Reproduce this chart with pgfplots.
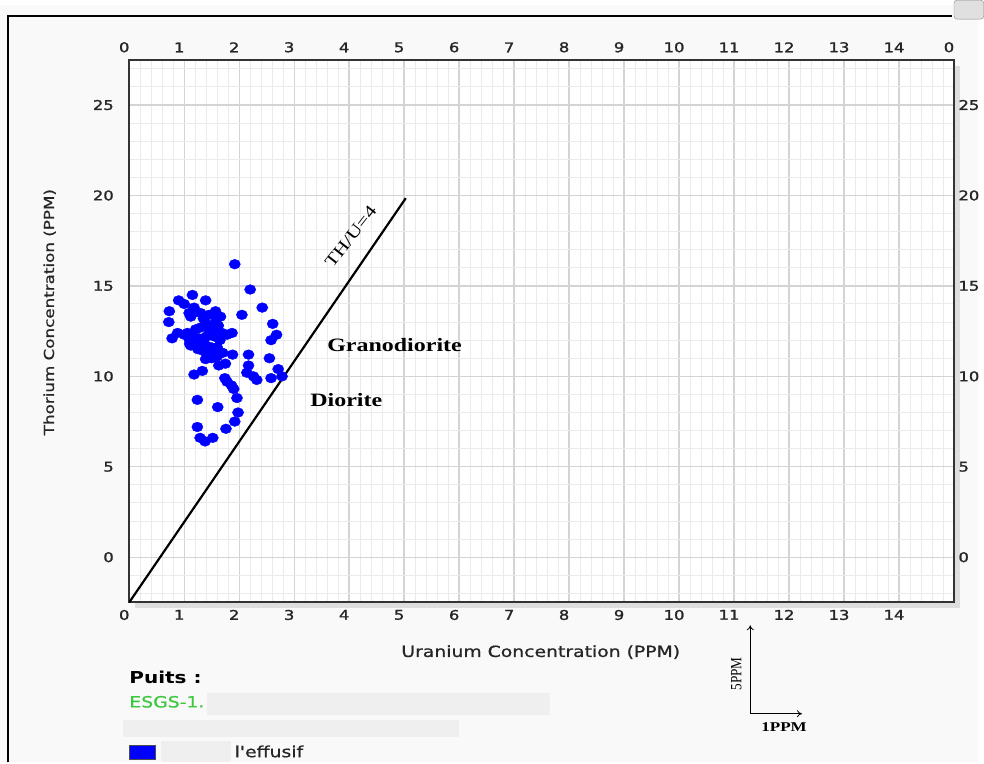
\documentclass[border=0pt]{standalone}
\usepackage{pgfplots}
\pgfplotsset{compat=1.18}
\usepackage{fontspec}
\setmainfont{DejaVu Sans}[FakeStretch=1.22]
\newfontfamily\tickfont{DejaVu Sans}[FakeStretch=1.22, FakeBold=1.5]
\newfontfamily\labfont{DejaVu Sans}[FakeStretch=1.22, FakeBold=0.8]
\newfontfamily\tnr{Liberation Serif}[FakeStretch=1.27]
\usetikzlibrary{arrows.meta}
\definecolor{bg}{HTML}{F9F9F9}
\definecolor{boxg}{HTML}{EFEFEF}
\definecolor{esgs}{RGB}{60,200,60}
\definecolor{ptblue}{HTML}{0000FF}
\pgfplotstableread{
x y
1.92 16.2
2.20 14.8
1.15 14.5
1.39 14.2
0.90 14.2
2.42 13.8
0.73 13.6
2.05 13.4
1.57 13.6
0.72 13.0
2.61 12.9
2.68 12.3
2.58 12.0
0.78 12.1
0.88 12.4
1.06 12.4
1.09 13.5
1.87 12.4
1.88 11.2
2.17 11.2
2.55 11.0
1.18 10.1
1.33 10.3
1.63 10.6
1.75 10.7
2.17 10.6
2.14 10.2
2.26 10.0
2.32 9.8
2.71 10.4
2.78 10.0
2.58 9.9
1.74 9.9
1.78 9.7
1.86 9.5
1.90 9.3
1.24 8.7
1.96 8.8
1.61 8.3
1.98 8.0
1.92 7.5
1.24 7.2
1.76 7.1
1.29 6.6
1.38 6.4
1.52 6.6
1.00 14.0
1.18 13.8
1.12 13.3
1.30 13.5
1.35 13.2
1.45 13.4
1.54 13.4
1.66 13.3
1.57 13.0
1.40 12.9
1.30 12.7
1.21 12.6
1.45 12.6
1.51 12.5
1.62 12.8
1.69 12.4
1.78 12.3
1.00 12.3
1.10 12.0
1.20 11.9
1.27 12.1
1.30 11.8
1.40 11.7
1.50 11.6
1.60 11.6
1.65 12.0
1.35 11.4
1.45 11.2
1.55 11.3
1.25 11.5
1.50 11.0
1.60 11.1
1.10 11.8
1.15 12.2
1.70 11.3
1.55 12.2
1.40 12.2
1.35 12.0
1.39 10.95
1.12 11.7
}\effusif
\begin{document}
\begin{tikzpicture}
\begin{scope}[x=1pt,y=-1pt]
\fill[bg] (0,0) rectangle (984,762);
\path[use as bounding box] (0,0) rectangle (984,762);
\fill[black!13] (136,61) rectangle (966,607);
\end{scope}
\begin{axis}[
  at={(130pt,-601pt)}, anchor=south west, scale only axis,
  width=830pt, height=546pt,
  xmin=0, xmax=15, ymin=-2.5, ymax=27.5,
  axis background/.style={fill=white},
  xtick={0,...,14}, ytick={0,5,...,25},
  minor xtick={0.2,0.4,...,14.9}, minor ytick={-2,...,27},
  grid=both,
  major grid style={draw=black!17, line width=1.3pt},
  minor grid style={draw=black!8, line width=1pt},
  major tick length=0pt, minor tick length=0pt,
  axis line style={draw=black!80, line width=2pt},
  /pgf/number format/assume math mode=true,
  tick label style={font=\tickfont\fontsize{13.5}{16}\selectfont, text=black!85},
  xticklabel style={yshift=-4pt, xshift=-5pt},
  yticklabel style={xshift=-12pt},
  xlabel={Uranium Concentration (PPM)},
  ylabel={Thorium Concentration (PPM)},
  xlabel style={at={(axis description cs:0.499,-0.0916)}, anchor=center, font=\labfont\fontsize{15.5}{18}\selectfont, text=black!85},
  ylabel style={at={(axis description cs:-0.0964,0.535)}, anchor=center, font=\labfont\fontsize{13.8}{16}\selectfont, text=black!85},
]
\addplot[black, line width=2.2pt] coordinates {(0,-2.5) (5.03,19.85)};
\addplot[only marks, mark=*, mark size=4.9pt, mark options={fill=ptblue, draw=ptblue, xscale=1.15}] table[x=x,y=y] {\effusif};
\end{axis}
\begin{axis}[
  at={(130pt,-601pt)}, anchor=south west, scale only axis,
  width=830pt, height=546pt,
  xmin=0, xmax=15, ymin=-2.5, ymax=27.5,
  axis x line*=top, axis y line*=right,
  axis line style={draw=none},
  xtick={0,...,15}, xticklabels={0,1,2,3,4,5,6,7,8,9,10,11,12,13,14,0},
  ytick={0,5,...,25},
  major tick length=0pt,
  /pgf/number format/assume math mode=true,
  tick label style={font=\tickfont\fontsize{13.5}{16}\selectfont, text=black!85},
  xticklabel style={yshift=4pt, xshift=-5pt},
  yticklabel style={xshift=1pt},
]
\addplot[draw=none] coordinates {(0,0)};
\end{axis}
\begin{scope}[x=1pt,y=-1pt]
\node[rotate=52, font=\tnr\fontsize{17}{20}\selectfont, inner sep=0] at (353,233) {TH/U=4};
\node[font=\tnr\bfseries\fontsize{19}{22}\selectfont] at (397,342) {Granodiorite};
\node[font=\tnr\bfseries\fontsize{19}{22}\selectfont] at (348.5,397) {Diorite};
\draw[-{To[length=5pt,width=7pt]}, line width=0.8pt] (755,713) -- (755,624);
\draw[-{To[length=5pt,width=7pt]}, line width=0.8pt] (755,713) -- (807,713);
\node[rotate=90, font=\tnr\fontsize{10.5}{13}\selectfont] at (741,673) {\scalebox{1}[1.5]{5PPM}};
\node[font=\tnr\bfseries\fontsize{13.5}{16}\selectfont] at (789,726) {1PPM};
\node[anchor=west, font=\bfseries\fontsize{16.5}{19}\selectfont, inner sep=0] at (130,676) {Puits :};
\fill[boxg] (208,692) rectangle (553,714);
\node[anchor=west, inner sep=0, text=esgs, font=\labfont\fontsize{15.5}{18}\selectfont] at (130,701) {ESGS-1.};
\fill[boxg] (124,719) rectangle (462,736);
\filldraw[fill=ptblue, draw=black!70, line width=0.8pt] (130,745) rectangle (156.5,759);
\fill[boxg] (162,740) rectangle (232,762);
\node[anchor=west, inner sep=0, font=\labfont\fontsize{15.5}{18}\selectfont, text=black!85] at (236,751) {l\symbol{39}effusif};
\draw[black, line width=2pt] (8,762) -- (8,11) -- (958,11);
\draw[fill=black!12, draw=black!45, rounded corners=3pt] (960,-5) rectangle (990,14);
\end{scope}
\end{tikzpicture}
\end{document}
